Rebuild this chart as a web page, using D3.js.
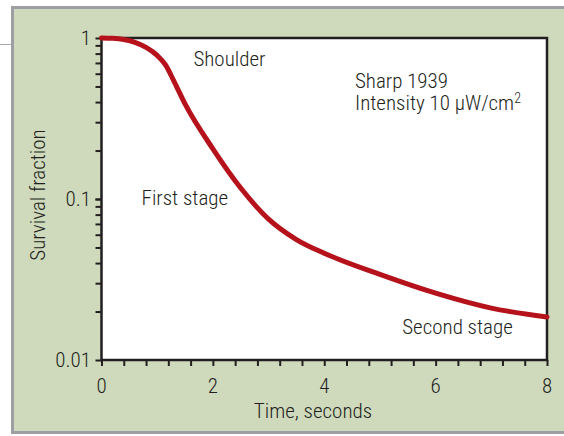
<!DOCTYPE html>
<html lang="en">
<head>
<meta charset="UTF-8">
<title>Survival fraction</title>
<script src="https://d3js.org/d3.v7.min.js"></script>
<style>
    body { margin: 0; background: #ffffff; }
    text {
        font-family: "Roboto Condensed", "Liberation Sans Narrow", sans-serif;
        font-weight: 300;
        fill: #231f20;
    }
    .curve { fill: none; stroke: #b5121b; stroke-width: 5; stroke-linecap: round; }
</style>
</head>
<body>
<svg id="chart" width="564" height="436"></svg>
<script>
// curve (Sharp 1939)
const times    = [0, 0.2, 0.4, 0.6, 0.8, 1.0, 1.15, 1.3, 1.5, 2.0, 2.5, 3.0, 3.5, 4.0, 5.0, 6.0, 7.0, 8.0];
const survival = [1.0, 0.995, 0.978, 0.94, 0.875, 0.78, 0.68, 0.54, 0.39, 0.205, 0.117, 0.075, 0.056, 0.046, 0.034, 0.026, 0.021, 0.0185];

const xTicks = [0, 2, 4, 6, 8];
const yTicks = [1, 0.1, 0.01];
const yTickLabels = ["1", "0.1", "0.01"];

const notes = [
    { text: "Shoulder", t: 1.65, v: 0.67 },
    { text: "First stage", t: 0.72, v: 0.092 },
    { text: "Second stage", t: 5.4, v: 0.0146 }
];

const svg = d3.select("#chart");

// panel
svg.append("line")
    .attr("x1", 0).attr("x2", 12).attr("y1", 44.5).attr("y2", 44.5)
    .attr("stroke", "#a7a9ac").attr("stroke-width", 1);
svg.append("rect")
    .attr("x", 12.5).attr("y", 7.5).attr("width", 560).attr("height", 425)
    .attr("fill", "#cfdabd").attr("stroke", "#9d9fa2").attr("stroke-width", 3);

const x = d3.scaleLinear().domain([0, 8]).range([101.5, 547]);
const y = d3.scaleLog().domain([0.01, 1]).range([360, 38]);

svg.append("rect")
    .attr("x", x(0)).attr("y", y(1))
    .attr("width", x(8) - x(0)).attr("height", y(0.01) - y(1))
    .attr("fill", "#ffffff");

// minor ticks: x every 0.4 s, y at each 1..9 of a decade
const xMinor = d3.range(0, 8.01, 0.4);
const yMinor = [];
[0.01, 0.1].forEach(d => d3.range(1, 11).forEach(k => yMinor.push(d * k)));

const xAxis = svg.append("g")
    .attr("transform", `translate(0,${y(0.01)})`)
    .call(d3.axisBottom(x).tickValues(xMinor).tickSize(6).tickFormat(""));
const yAxis = svg.append("g")
    .attr("transform", `translate(${x(0)},0)`)
    .call(d3.axisLeft(y).tickValues(yMinor).tickSize(6).tickFormat(""));
[xAxis, yAxis].forEach(g => {
    g.select(".domain").remove();
    g.selectAll("line").attr("stroke", "#231f20").attr("stroke-width", 2);
});

// frame
svg.append("rect")
    .attr("x", x(0)).attr("y", y(1))
    .attr("width", x(8) - x(0)).attr("height", y(0.01) - y(1))
    .attr("fill", "none").attr("stroke", "#231f20").attr("stroke-width", 2.5);

// tick labels
svg.selectAll(".xl").data(xTicks).enter().append("text")
    .attr("x", d => x(d)).attr("y", 393)
    .attr("text-anchor", "middle").attr("font-size", 21)
    .text(d => d);
svg.selectAll(".yl").data(yTicks).enter().append("text")
    .attr("x", 91).attr("y", d => y(d) + 7)
    .attr("text-anchor", "end").attr("font-size", 21)
    .text((d, i) => yTickLabels[i]);

// axis titles
svg.append("text")
    .attr("x", 313).attr("y", 418)
    .attr("text-anchor", "middle").attr("font-size", 21)
    .text("Time, seconds");
svg.append("text")
    .attr("transform", "translate(45,195) rotate(-90)")
    .attr("text-anchor", "middle").attr("font-size", 21)
    .text("Survival fraction");

// curve
const line = d3.line()
    .x((d, i) => x(times[i]))
    .y(d => y(d))
    .curve(d3.curveMonotoneX);
svg.append("path")
    .datum(survival)
    .attr("class", "curve")
    .attr("d", line);

// annotations
svg.selectAll(".note").data(notes).enter().append("text")
    .attr("x", d => x(d.t)).attr("y", d => y(d.v))
    .attr("font-size", 21)
    .text(d => d.text);

const ref = svg.append("text").attr("x", 355).attr("y", 88).attr("font-size", 21);
ref.append("tspan").text("Sharp 1939");
const ref2 = svg.append("text").attr("x", 355).attr("y", 110).attr("font-size", 21);
ref2.append("tspan").text("Intensity 10 \u03bcW/cm");
ref2.append("tspan").attr("font-size", 14).attr("dy", -7).text("2");
</script>
</body>
</html>
